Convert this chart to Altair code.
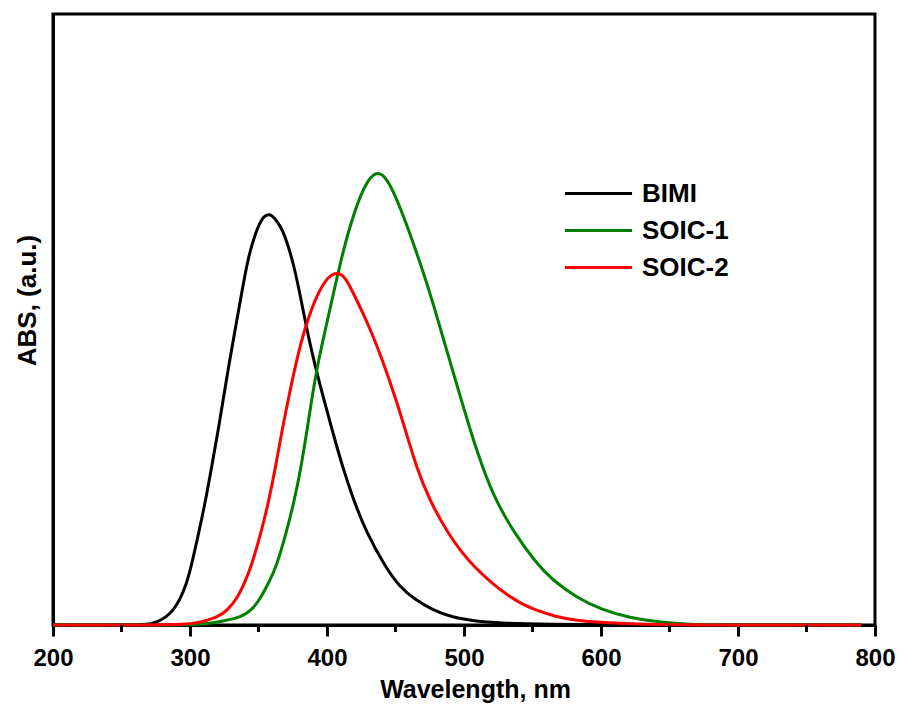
import altair as alt
import pandas as pd

# ---- data ----
series_names = ["BIMI", "SOIC-1", "SOIC-2"]
series_colors = ["#000000", "#008000", "#ff0000"]

wl_bimi = [200, 250, 265, 272, 276, 282.8, 288, 292.5, 297, 300.5, 306.4, 311.5, 315.8,
           320.2, 323.9, 329.0, 333.3, 337.7, 342.1, 345.7, 349.4, 353.0, 355.2, 357.4, 359.8,
           362.5, 367.6, 372.0, 375.6, 380.0, 384.7, 390.2, 397.8, 404.4, 411.3, 419.3, 428.8,
           442.6, 452.8, 464.5, 476.9, 490.7, 507.5, 525.7, 560, 620, 790]
abs_bimi = [0, 0, 0.0005, 0.002, 0.005, 0.013, 0.025, 0.041, 0.065, 0.092, 0.151, 0.205, 0.259,
            0.314, 0.364, 0.434, 0.488, 0.543, 0.597, 0.626, 0.651, 0.666, 0.670, 0.672, 0.670,
            0.664, 0.647, 0.618, 0.590, 0.545, 0.490, 0.434, 0.368, 0.314, 0.259, 0.205, 0.151,
            0.095, 0.063, 0.041, 0.025, 0.013, 0.0065, 0.003, 0.001, 0, 0]

wl_soic1 = [200, 295, 308, 316.6, 338.4, 345.0, 350.8, 357.4, 363.0, 370.3, 376.3, 381.1,
            385.1, 388.7, 393.8, 399.3, 404.7, 410.2, 416.4, 424.9, 430.2, 433.7, 437.0, 440.2,
            443.4, 449.2, 458.9, 467.0, 475.1, 482.0, 489.3, 497.8, 505.1, 513.5, 523.3, 536.6,
            552.4, 564.3, 582.7, 600.7, 620.4, 644.4, 664.0, 690.0, 790]
abs_soic1 = [0, 0, 0.001, 0.003, 0.013, 0.025, 0.041, 0.069, 0.095, 0.151, 0.205, 0.259,
             0.314, 0.368, 0.434, 0.488, 0.543, 0.597, 0.651, 0.707, 0.728, 0.737, 0.740, 0.737,
             0.730, 0.707, 0.651, 0.599, 0.544, 0.491, 0.435, 0.370, 0.315, 0.258, 0.203, 0.151,
             0.102, 0.074, 0.044, 0.025, 0.012, 0.004, 0.001, 0, 0]

wl_soic2 = [200, 280, 295, 304.9, 320.9, 327.5, 333.7, 339.9, 344.6, 351.9, 357.7, 362.5,
            366.8, 371.6, 377.8, 384.0, 393.1, 399.6, 403.3, 406.9, 410.2, 413.5, 419.3, 431.0,
            440.4, 450.6, 457.9, 465.2, 474.7, 487.8, 506.0, 535.2, 551.2, 566.5, 580.3, 600.7,
            635.0, 671.4, 790]
abs_soic2 = [0, 0, 0.001, 0.003, 0.013, 0.025, 0.041, 0.069, 0.095, 0.151, 0.205, 0.259,
             0.314, 0.368, 0.434, 0.488, 0.543, 0.566, 0.573, 0.576, 0.574, 0.568, 0.543, 0.488,
             0.434, 0.368, 0.314, 0.259, 0.205, 0.151, 0.095, 0.041, 0.025, 0.014, 0.008, 0.004,
             0.001, 0, 0]

major_ticks = [200, 300, 400, 500, 600, 700, 800]
minor_ticks = [250, 350, 450, 550, 650, 750]

FONT = "Liberation Sans"
W, H = 822, 611

def frame(name, wl, ab):
    return pd.DataFrame({"wl": wl, "abs": ab, "series": name})

color = alt.Color(
    "series:N",
    scale=alt.Scale(domain=series_names, range=series_colors),
    legend=alt.Legend(
        title=None, orient="none", legendX=510, legendY=161,
        symbolType="stroke", symbolSize=4500, symbolStrokeWidth=3,
        labelFont=FONT, labelFontSize=26, labelFontWeight="bold", labelColor="black",
        labelOffset=8, rowPadding=0, clipHeight=37,
    ),
)

x_enc = alt.X(
    "wl:Q",
    scale=alt.Scale(domain=[200, 800], nice=False, zero=False),
    axis=alt.Axis(
        values=major_ticks, title="Wavelength, nm", grid=False,
        tickSize=11, tickWidth=3, tickColor="black",
        domainColor="black", domainWidth=3,
        labelFont=FONT, labelFontSize=24, labelFontWeight="bold", labelColor="black",
        labelPadding=10, labelFlush=False,
        titleFont=FONT, titleFontSize=25, titleFontWeight="bold", titleColor="black",
        titleX=422, titleY=72, titleBaseline="alphabetic",
    ),
)
y_enc = alt.Y(
    "abs:Q",
    scale=alt.Scale(domain=[0, 1], nice=False, zero=True),
    axis=alt.Axis(
        title="ABS, (a.u.)", grid=False, ticks=False, labels=False,
        domainColor="black", domainWidth=3,
        titleFont=FONT, titleFontSize=26, titleFontWeight="bold", titleColor="black",
        titleX=-26, titleY=286, titleBaseline="middle", titleAlign="center",
    ),
)

def line(name, wl, ab):
    return alt.Chart(frame(name, wl, ab)).mark_line(
        strokeWidth=3, interpolate="basis", clip=False
    ).encode(x=x_enc, y=y_enc, color=color)

minor = alt.Chart(pd.DataFrame({"m": minor_ticks})).mark_rule(
    color="black", strokeWidth=3
).encode(
    x=alt.X("m:Q", scale=alt.Scale(domain=[200, 800], nice=False, zero=False)),
    y=alt.value(H),
    y2=alt.value(H + 7),
)

chart = alt.layer(
    line("BIMI", wl_bimi, abs_bimi),
    line("SOIC-1", wl_soic1, abs_soic1),
    line("SOIC-2", wl_soic2, abs_soic2),
    minor,
).properties(
    width=W, height=H,
    autosize=alt.AutoSizeParams(type="none"),
    padding={"left": 45, "top": 6, "right": 20, "bottom": 78},
).configure(
    background="white",
    view=alt.ViewConfig(stroke="black", strokeWidth=3),
)

chart.save("out.html", embed_options={"renderer": "svg", "actions": False})
